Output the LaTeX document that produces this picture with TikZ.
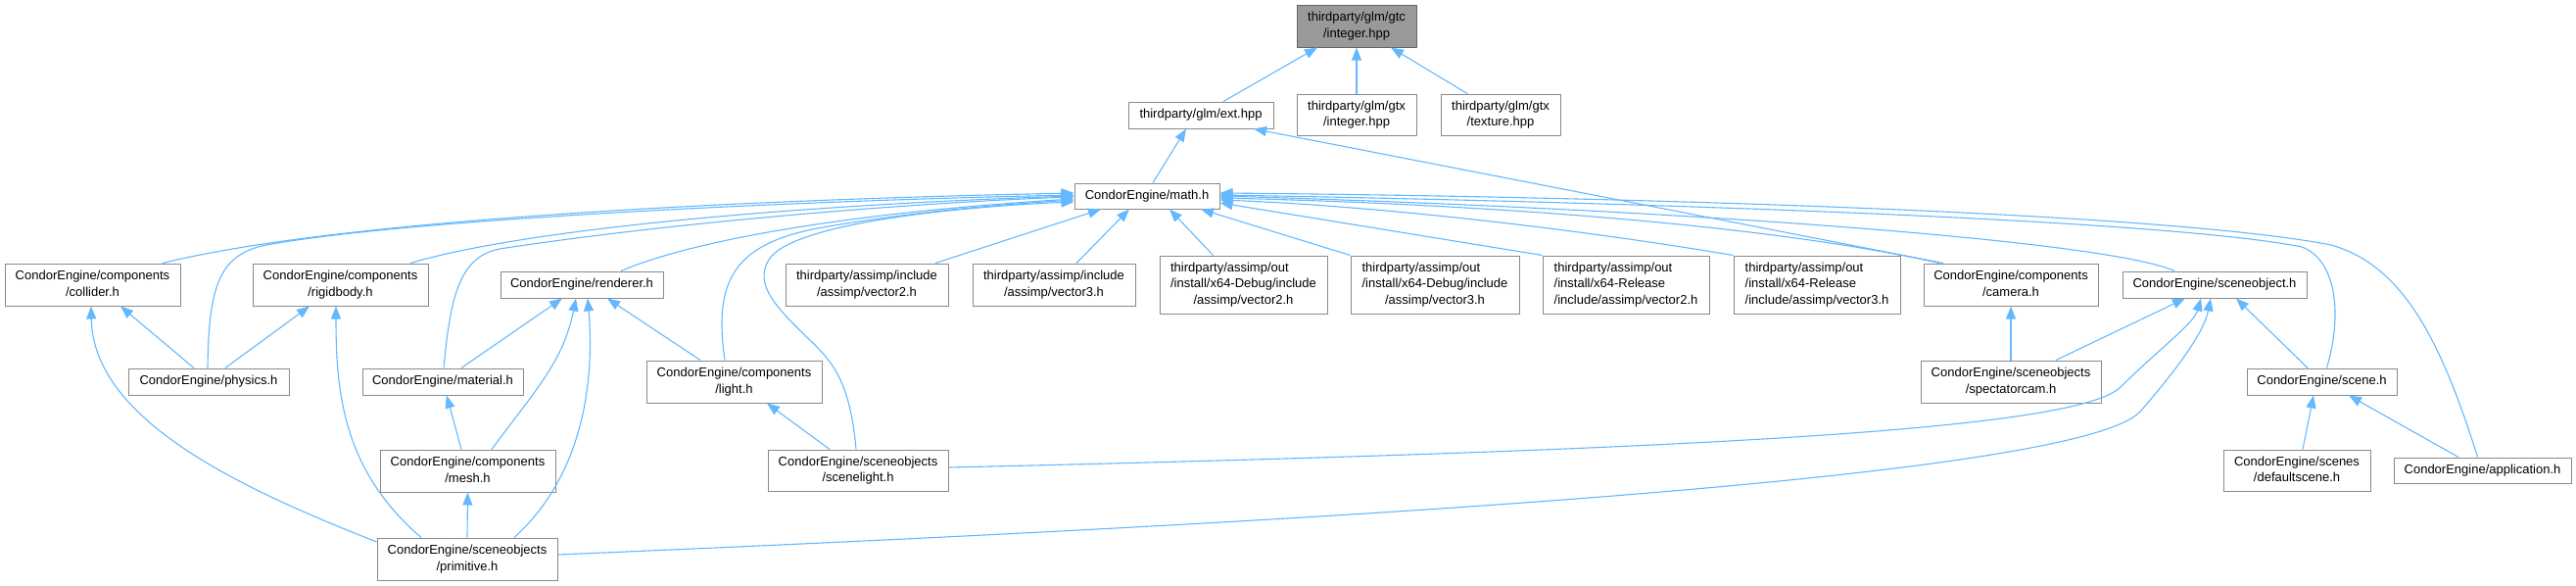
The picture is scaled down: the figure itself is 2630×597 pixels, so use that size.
\documentclass[tikz,border=0pt]{standalone}
\usepackage{fontspec}
\setmainfont{Liberation Sans}
\usetikzlibrary{arrows.meta}
\definecolor{edgecol}{HTML}{63B8FF}
\definecolor{boxcol}{HTML}{8A8A8A}
\definecolor{rootfill}{HTML}{999999}
\definecolor{rootdraw}{HTML}{666666}
\newcommand{\LTwo}[2]{\begin{tabular}{@{}l@{}}#1\\\multicolumn{1}{@{}c@{}}{#2}\end{tabular}}
\newcommand{\LThree}[3]{\begin{tabular}{@{}l@{}}#1\\#2\\\multicolumn{1}{@{}c@{}}{#3}\end{tabular}}
\begin{document}
\begin{tikzpicture}[x=1pt,y=-1pt,
  nb/.style 2 args={draw=boxcol, fill=white, line width=1pt, inner sep=0pt,
     minimum width=#1pt, minimum height=#2pt, font=\fontsize{13}{16.5}\selectfont},
  rootbox/.style={fill=rootfill, draw=rootdraw},
  dep/.style={draw=edgecol, line width=1.1pt, -{Triangle[length=13pt,width=10pt]}}]
\useasboundingbox (0,0) rectangle (2630,597);

% nodes
\node[nb={122}{43}, rootbox] (gtc) at (1385,26.5) {\LTwo{thirdparty/glm/gtc}{/integer.hpp}};
\node[nb={148}{27}] (ext) at (1226,117.5) {thirdparty/glm/ext.hpp};
\node[nb={122}{42}] (gtxint) at (1385,117) {\LTwo{thirdparty/glm/gtx}{/integer.hpp}};
\node[nb={122}{42}] (gtxtex) at (1532,117) {\LTwo{thirdparty/glm/gtx}{/texture.hpp}};
\node[nb={148}{26}] (math) at (1171,200) {CondorEngine/math.h};

\node[nb={179}{43}] (collider) at (94.5,290.5) {\LTwo{CondorEngine/components}{/collider.h}};
\node[nb={179}{43}] (rigidbody) at (347.5,290.5) {\LTwo{CondorEngine/components}{/rigidbody.h}};
\node[nb={166}{27}] (renderer) at (594,290.5) {CondorEngine/renderer.h};
\node[nb={166}{43}] (av2) at (885,290.5) {\LTwo{thirdparty/assimp/include}{/assimp/vector2.h}};
\node[nb={166}{43}] (av3) at (1076,290.5) {\LTwo{thirdparty/assimp/include}{/assimp/vector3.h}};
\node[nb={171}{59}] (dv2) at (1269.5,290.5) {\LThree{thirdparty/assimp/out}{/install/x64-Debug/include}{/assimp/vector2.h}};
\node[nb={172}{59}] (dv3) at (1465,290.5) {\LThree{thirdparty/assimp/out}{/install/x64-Debug/include}{/assimp/vector3.h}};
\node[nb={170}{59}] (rv2) at (1660,290.5) {\LThree{thirdparty/assimp/out}{/install/x64-Release}{/include/assimp/vector2.h}};
\node[nb={170}{59}] (rv3) at (1855,290.5) {\LThree{thirdparty/assimp/out}{/install/x64-Release}{/include/assimp/vector3.h}};
\node[nb={178}{43}] (camera) at (2053,290.5) {\LTwo{CondorEngine/components}{/camera.h}};
\node[nb={188}{27}] (sceneobj) at (2261,290.5) {CondorEngine/sceneobject.h};

\node[nb={164}{27}] (physics) at (213,389.5) {CondorEngine/physics.h};
\node[nb={164}{27}] (material) at (452,389.5) {CondorEngine/material.h};
\node[nb={179}{43}] (light) at (749.5,389.5) {\LTwo{CondorEngine/components}{/light.h}};
\node[nb={184}{43}] (spectator) at (2053,389.5) {\LTwo{CondorEngine/sceneobjects}{/spectatorcam.h}};
\node[nb={153}{27}] (scene) at (2370.5,389.5) {CondorEngine/scene.h};

\node[nb={179}{43}] (mesh) at (477.5,480.5) {\LTwo{CondorEngine/components}{/mesh.h}};
\node[nb={184}{42}] (scenelight) at (876,480) {\LTwo{CondorEngine/sceneobjects}{/scenelight.h}};
\node[nb={150}{42}] (defscene) at (2345,480) {\LTwo{CondorEngine/scenes}{/defaultscene.h}};
\node[nb={181}{26}] (app) at (2534.5,480) {CondorEngine/application.h};

\node[nb={184}{43}] (primitive) at (477,570.5) {\LTwo{CondorEngine/sceneobjects}{/primitive.h}};

% edges to gtc / ext
\draw[dep] ([xshift=23pt]ext.north) -- ([xshift=-40pt]gtc.south);
\draw[dep] (gtxint.north) -- (gtc.south);
\draw[dep] ([xshift=-34pt]gtxtex.north) -- ([xshift=35pt]gtc.south);
\draw[dep] ([xshift=6pt]math.north) -- ([xshift=-15pt]ext.south);
\draw[dep] ([xshift=-69pt]camera.north) -- ([xshift=54pt]ext.south);

% left side into math
\draw[dep] ([xshift=71.5pt]collider.north) .. controls (330,228) and (700,205) .. ([yshift=3pt]math.west);
\draw[dep] ([xshift=-1pt]physics.north) .. controls (213,290) and (225,262) .. (267,251) .. controls (400,225) and (800,205) .. ([yshift=1pt]math.west);
\draw[dep] ([xshift=71.5pt]rigidbody.north) .. controls (550,230) and (850,208) .. (math.west);
\draw[dep] ([xshift=1pt]material.north) .. controls (460,300) and (470,262) .. (510,254) .. controls (700,225) and (950,206) .. ([yshift=-1pt]math.west);
\draw[dep] ([xshift=40pt]renderer.north) .. controls (720,240) and (900,215) .. ([yshift=-3pt]math.west);
\draw[dep] ([xshift=-9.5pt]light.north) .. controls (728,285) and (750,248) .. (840,232) .. controls (950,213) and (1050,207) .. ([yshift=-4pt]math.west);
\draw[dep] ([xshift=-2pt]scenelight.north) .. controls (868,390) and (850,370) .. (830,350) .. controls (790,312) and (770,290) .. (785,265) .. controls (810,225) and (1000,210) .. ([yshift=-6pt]math.west);

% bottom into math
\draw[dep] ([xshift=70pt]av2.north) -- ([xshift=-47pt]math.south);
\draw[dep] ([xshift=23pt]av3.north) -- ([xshift=-18pt]math.south);
\draw[dep] ([xshift=-31pt]dv2.north) -- ([xshift=23pt]math.south);
\draw[dep] (dv3.north west) -- ([xshift=55pt]math.south);

% right side into math
\draw[dep] (rv2.north west) -- ([yshift=-7pt]math.east);
\draw[dep] (rv3.north west) .. controls (1600,232) and (1400,210) .. ([yshift=-4pt]math.east);
\draw[dep] ([xshift=-73pt]camera.north) .. controls (1800,228) and (1500,208) .. ([yshift=-2pt]math.east);
\draw[dep] ([xshift=-41pt]sceneobj.north) .. controls (2150,245) and (1700,213) .. (math.east);
\draw[dep] ([xshift=5pt]scene.north) .. controls (2392,320) and (2385,265) .. (2350,252) .. controls (2200,222) and (1600,205) .. ([yshift=1pt]math.east);
\draw[dep] ([xshift=-5pt]app.north) .. controls (2490,340) and (2450,270) .. (2380,250) .. controls (2200,215) and (1600,200) .. ([yshift=3pt]math.east);

% lower left
\draw[dep] ([xshift=-15pt]physics.north) -- ([xshift=28.5pt]collider.south);
\draw[dep] ([xshift=17pt]physics.north) -- ([xshift=-31.5pt]rigidbody.south);
\draw[dep] ([yshift=17.5pt]primitive.west) .. controls (250,500) and (95,430) .. ([xshift=-1.5pt]collider.south);
\draw[dep] ([xshift=-47pt]primitive.north) .. controls (350,480) and (343,400) .. ([xshift=-4.5pt]rigidbody.south);
\draw[dep] ([xshift=19pt]material.north) -- ([xshift=-20pt]renderer.south);
\draw[dep] ([xshift=24.5pt]mesh.north) .. controls (545,400) and (575,370) .. ([xshift=-6pt]renderer.south);
\draw[dep] ([xshift=48pt]primitive.north) .. controls (590,490) and (608,400) .. ([xshift=6pt]renderer.south);
\draw[dep] ([xshift=-34.5pt]light.north) -- ([xshift=26pt]renderer.south);
\draw[dep] ([xshift=-6.5pt]mesh.north) -- ([xshift=4pt]material.south);
\draw[dep] (primitive.north) -- (mesh.south);
\draw[dep] ([xshift=-29pt]scenelight.north) -- ([xshift=33.5pt]light.south);

% right lower
\draw[dep] (spectator.north) -- (camera.south);
\draw[dep] ([xshift=46pt]spectator.north) -- ([xshift=-30pt]sceneobj.south);
\draw[dep] ([yshift=3pt]scenelight.east) .. controls (1700,460) and (2120,440) .. (2165,395) .. controls (2200,360) and (2240,330) .. ([xshift=-14pt]sceneobj.south);
\draw[dep] ([yshift=4.5pt]primitive.east) .. controls (1300,535) and (2120,490) .. (2185,420) .. controls (2220,380) and (2250,340) .. ([xshift=-4pt]sceneobj.south);
\draw[dep] ([xshift=-14.5pt]scene.north) -- ([xshift=22pt]sceneobj.south);
\draw[dep] ([xshift=6pt]defscene.north) -- ([xshift=-8.5pt]scene.south);
\draw[dep] ([xshift=-24.5pt]app.north) -- ([xshift=27.5pt]scene.south);
\end{tikzpicture}
\end{document}
